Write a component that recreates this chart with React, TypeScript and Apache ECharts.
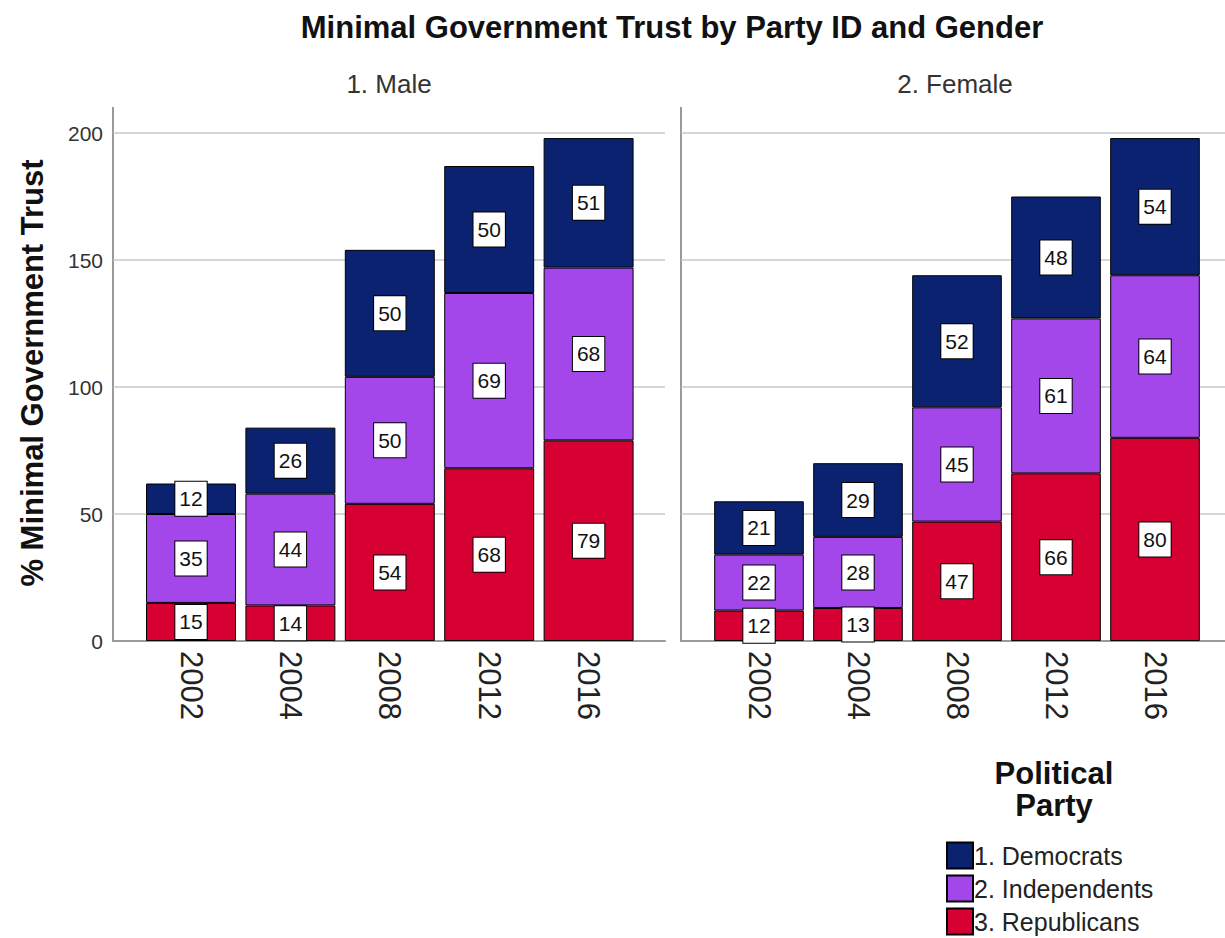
import React, { useEffect, useRef } from "react";
import * as echarts from "echarts";

const years = ["2002", "2004", "2008", "2012", "2016"];
const parties = ["1. Democrats", "2. Independents", "3. Republicans"];
const maleRepublicans = [15, 14, 54, 68, 79];
const maleIndependents = [35, 44, 50, 69, 68];
const maleDemocrats = [12, 26, 50, 50, 51];
const femaleRepublicans = [12, 13, 47, 66, 80];
const femaleIndependents = [22, 28, 45, 61, 64];
const femaleDemocrats = [21, 29, 52, 48, 54];
const yTicks = [0, 50, 100, 150, 200];

const colors: Record<string, string> = {
  "1. Democrats": "#0b2270",
  "2. Independents": "#a347eb",
  "3. Republicans": "#d60032",
};

const FONT = "Liberation Sans, Arial, sans-serif";

export default function App() {
  const ref = useRef<HTMLDivElement>(null);
  useEffect(() => {
    if (!ref.current) return;
    const chart = echarts.init(ref.current, undefined, { renderer: "svg" });
    const TOP = 133;
    const BOTTOM = 938 - 641;
    const grids = [
      { left: 113, width: 552, top: TOP, bottom: BOTTOM },
      { left: 141.3, width: 497, top: TOP, bottom: BOTTOM },
      { left: 681, width: 544, top: TOP, bottom: BOTTOM },
      { left: 709.5, width: 495, top: TOP, bottom: BOTTOM },
    ];
    const bgX = (i: number) => ({
      type: "value",
      gridIndex: i,
      min: 0,
      max: 1,
      axisLine: { show: true, onZero: false, lineStyle: { color: "#9a9a9a", width: 2 } },
      axisTick: { show: false },
      axisLabel: { show: false },
      splitLine: { show: false },
    });
    const barX = (i: number) => ({
      type: "category",
      gridIndex: i,
      data: years,
      axisLine: { show: false },
      axisTick: { show: false },
      axisLabel: {
        rotate: -90,
        fontSize: 31,
        color: "#222",
        fontFamily: FONT,
        margin: 10,
      },
    });
    const bgY = (i: number, labels: boolean) => ({
      type: "value",
      gridIndex: i,
      min: yTicks[0],
      max: yTicks[yTicks.length - 1],
      interval: 50,
      axisLine: { show: false },
      axisTick: { show: false },
      axisLabel: { show: labels, fontSize: 21, color: "#333", fontFamily: FONT, margin: 10 },
      splitLine: { show: true, lineStyle: { color: "#c8c8c8", width: 1.5 } },
    });
    const barY = (i: number) => ({
      type: "value",
      gridIndex: i,
      min: 0,
      max: 200,
      show: false,
    });
    const label = {
      show: true,
      position: "inside",
      backgroundColor: "#fff",
      borderColor: "#000",
      borderWidth: 1,
      padding: [7, 4, 6, 4],
      fontSize: 21,
      color: "#111",
      fontFamily: FONT,
    };
    const mk = (name: string, data: number[], axis: number, stack: string) => ({
      type: "bar",
      name,
      data,
      xAxisIndex: axis,
      yAxisIndex: axis,
      stack,
      barWidth: "90.5%",
      itemStyle: { color: colors[name], borderColor: "#000", borderWidth: 1 },
      label,
      emphasis: { disabled: true },
    });
    chart.setOption({
      animation: false,
      grid: grids,
      xAxis: [bgX(0), barX(1), bgX(2), barX(3)],
      yAxis: [bgY(0, true), barY(1), bgY(2, false), barY(3)],
      legend: {
        data: parties,
        orient: "vertical",
        left: 946,
        top: 841,
        padding: 0,
        itemWidth: 26,
        itemHeight: 26,
        itemGap: 4,
        icon: "rect",
        textStyle: { fontSize: 25, lineHeight: 29, color: "#222", fontFamily: FONT, padding: [0, 0, 0, -4] },
        selectedMode: false,
      },
      series: [
        mk("3. Republicans", maleRepublicans, 1, "male"),
        mk("2. Independents", maleIndependents, 1, "male"),
        mk("1. Democrats", maleDemocrats, 1, "male"),
        mk("3. Republicans", femaleRepublicans, 3, "female"),
        mk("2. Independents", femaleIndependents, 3, "female"),
        mk("1. Democrats", femaleDemocrats, 3, "female"),
      ],
      graphic: [
        {
          type: "line",
          shape: { x1: 113, y1: 107, x2: 113, y2: 642 },
          style: { stroke: "#9a9a9a", lineWidth: 2 },
        },
        {
          type: "line",
          shape: { x1: 681, y1: 107, x2: 681, y2: 642 },
          style: { stroke: "#9a9a9a", lineWidth: 2 },
        },
        {
          type: "text",
          x: 672,
          y: 27,
          style: {
            text: "Minimal Government Trust by Party ID and Gender",
            fontSize: 31,
            fontWeight: "bold",
            fill: "#111",
            fontFamily: FONT,
            align: "center",
            verticalAlign: "middle",
          },
        },
        {
          type: "text",
          x: 389,
          y: 84,
          style: { text: "1. Male", fontSize: 26, fill: "#333", fontFamily: FONT, align: "center", verticalAlign: "middle" },
        },
        {
          type: "text",
          x: 955,
          y: 84,
          style: { text: "2. Female", fontSize: 26, fill: "#333", fontFamily: FONT, align: "center", verticalAlign: "middle" },
        },
        {
          type: "text",
          x: 32,
          y: 373,
          rotation: Math.PI / 2,
          style: {
            text: "% Minimal Government Trust",
            fontSize: 31,
            fontWeight: "bold",
            fill: "#111",
            fontFamily: FONT,
            align: "center",
            verticalAlign: "middle",
          },
        },
        {
          type: "text",
          x: 1054,
          y: 773,
          style: { text: "Political", fontSize: 31, fontWeight: "bold", fill: "#111", fontFamily: FONT, align: "center", verticalAlign: "middle" },
        },
        {
          type: "text",
          x: 1054,
          y: 805,
          style: { text: "Party", fontSize: 31, fontWeight: "bold", fill: "#111", fontFamily: FONT, align: "center", verticalAlign: "middle" },
        },
      ],
    });
    return () => chart.dispose();
  }, []);
  return (
    <div
      ref={ref}
      style={{ position: "fixed", left: 0, top: 0, width: 1225, height: 938, background: "#fff" }}
    />
  );
}
